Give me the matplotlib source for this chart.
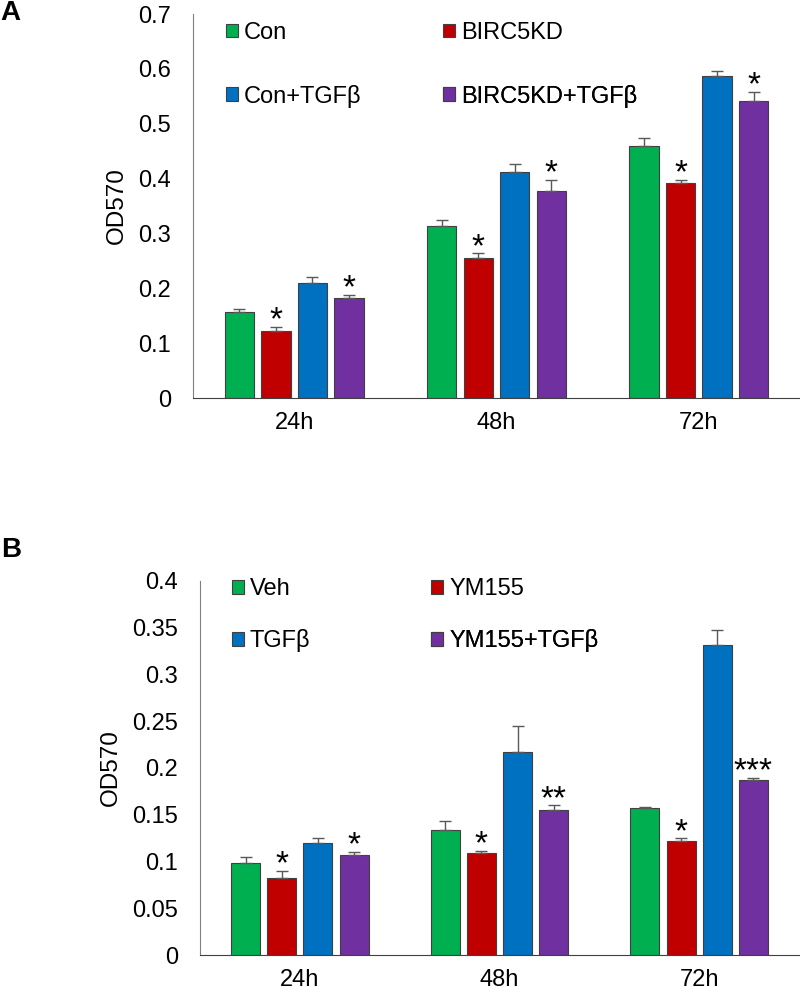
import matplotlib
matplotlib.use('Agg')
import matplotlib.pyplot as plt
from matplotlib.patches import Patch
import numpy as np

plt.rcParams['font.family'] = ['Liberation Sans', 'DejaVu Sans']

# Shared categories and colours
times = ['24h', '48h', '72h']
bar_colors = ['#00B050', '#C00000', '#0070C0', '#7030A0']

# Panel A data (mean, upper error, significance)
labels_a = ['Con', 'BIRC5KD', 'Con+TGFβ', 'BIRC5KD+TGFβ']
mean_a = [[0.156, 0.3135, 0.459],
          [0.1215, 0.255, 0.3925],
          [0.209, 0.4125, 0.587],
          [0.183, 0.377, 0.541]]
err_a = [[0.006, 0.0115, 0.015],
         [0.0085, 0.0087, 0.0045],
         [0.0116, 0.0145, 0.0085],
         [0.005, 0.021, 0.017]]
stars_a = [['', '', ''], ['*', '*', '*'], ['', '', ''], ['*', '*', '*']]

# Panel B data
labels_b = ['Veh', 'YM155', 'TGFβ', 'YM155+TGFβ']
mean_b = [[0.0986, 0.1332, 0.1567],
          [0.082, 0.1086, 0.1218],
          [0.120, 0.2166, 0.331],
          [0.107, 0.155, 0.1867]]
err_b = [[0.0064, 0.0098, 0.0013],
         [0.008, 0.0029, 0.0029],
         [0.005, 0.0278, 0.0166],
         [0.003, 0.005, 0.0028]]
stars_b = [['', '', ''], ['*', '*', '*'], ['', '', ''], ['*', '**', '***']]


def draw_panel(ax, labels, means, errs, stars, ymax, ystep, leg_cols, leg_rows, ylab_x):
    x = np.arange(len(times))
    for i in range(4):
        off = (i - 1.5) * 0.181
        m = np.array(means[i])
        e = np.array(errs[i])
        ax.bar(x + off, m, width=0.145, color=bar_colors[i], edgecolor='#404040', linewidth=0.8,
               yerr=[np.zeros_like(e), e], capsize=4,
               error_kw=dict(ecolor='#595959', elinewidth=1, capthick=1))
        for j in range(len(times)):
            if stars[i][j]:
                ax.annotate(stars[i][j], xy=(x[j] + off, m[j] + e[j]), xytext=(0, -1.8),
                            textcoords='offset points', ha='center', va='baseline', fontsize=24)

    ax.set_xlim(-0.5, 2.5)
    ax.set_ylim(0, ymax)
    ax.set_xticks(x)
    ax.set_xticklabels(times)
    yt = np.round(np.arange(0, ymax + ystep / 2, ystep), 3)
    ax.set_yticks(yt)
    ax.set_yticklabels([f'{v:g}' for v in yt])
    ax.tick_params(axis='x', length=0, pad=10, labelsize=17)
    ax.tick_params(axis='y', length=0, pad=16, labelsize=17)
    for s in ['top', 'right']:
        ax.spines[s].set_visible(False)
    ax.spines['left'].set_color('#808080')
    ax.spines['bottom'].set_color('#404040')
    ax.set_ylabel('OD570', fontsize=17.5)
    ax.yaxis.set_label_coords(ylab_x, 0.5)

    # legend: 2 columns x 2 rows, placed one entry at a time
    for i, lab in enumerate(labels):
        h = Patch(facecolor=bar_colors[i], edgecolor='#404040', linewidth=0.8)
        leg = ax.legend([h], [lab], loc='center left',
                        bbox_to_anchor=(leg_cols[i % 2], leg_rows[i // 2]),
                        frameon=False, borderpad=0, borderaxespad=0,
                        handlelength=0.52, handleheight=0.52, handletextpad=0.25, fontsize=17)
        ax.add_artist(leg)


fig = plt.figure(figsize=(8, 9.93), dpi=100)
ax_a = fig.add_axes([193 / 800, 1 - 398 / 993, 607 / 800, 384 / 993])
ax_b = fig.add_axes([200 / 800, 1 - 955 / 993, 599 / 800, 374.3 / 993])

draw_panel(ax_a, labels_a, mean_a, err_a, stars_a, 0.7, 0.1,
           (0.054, 0.412), (0.951, 0.786), -0.107)
draw_panel(ax_b, labels_b, mean_b, err_b, stars_b, 0.4, 0.05,
           (0.053, 0.386), (0.977, 0.839), -0.131)

fig.text(0.0, 1 - 20 / 993, 'A', fontsize=20, fontweight='bold', va='baseline')
fig.text(0.001, 1 - 556.7 / 993, 'B', fontsize=20, fontweight='bold', va='baseline')

fig.savefig('out.png', dpi=100)
